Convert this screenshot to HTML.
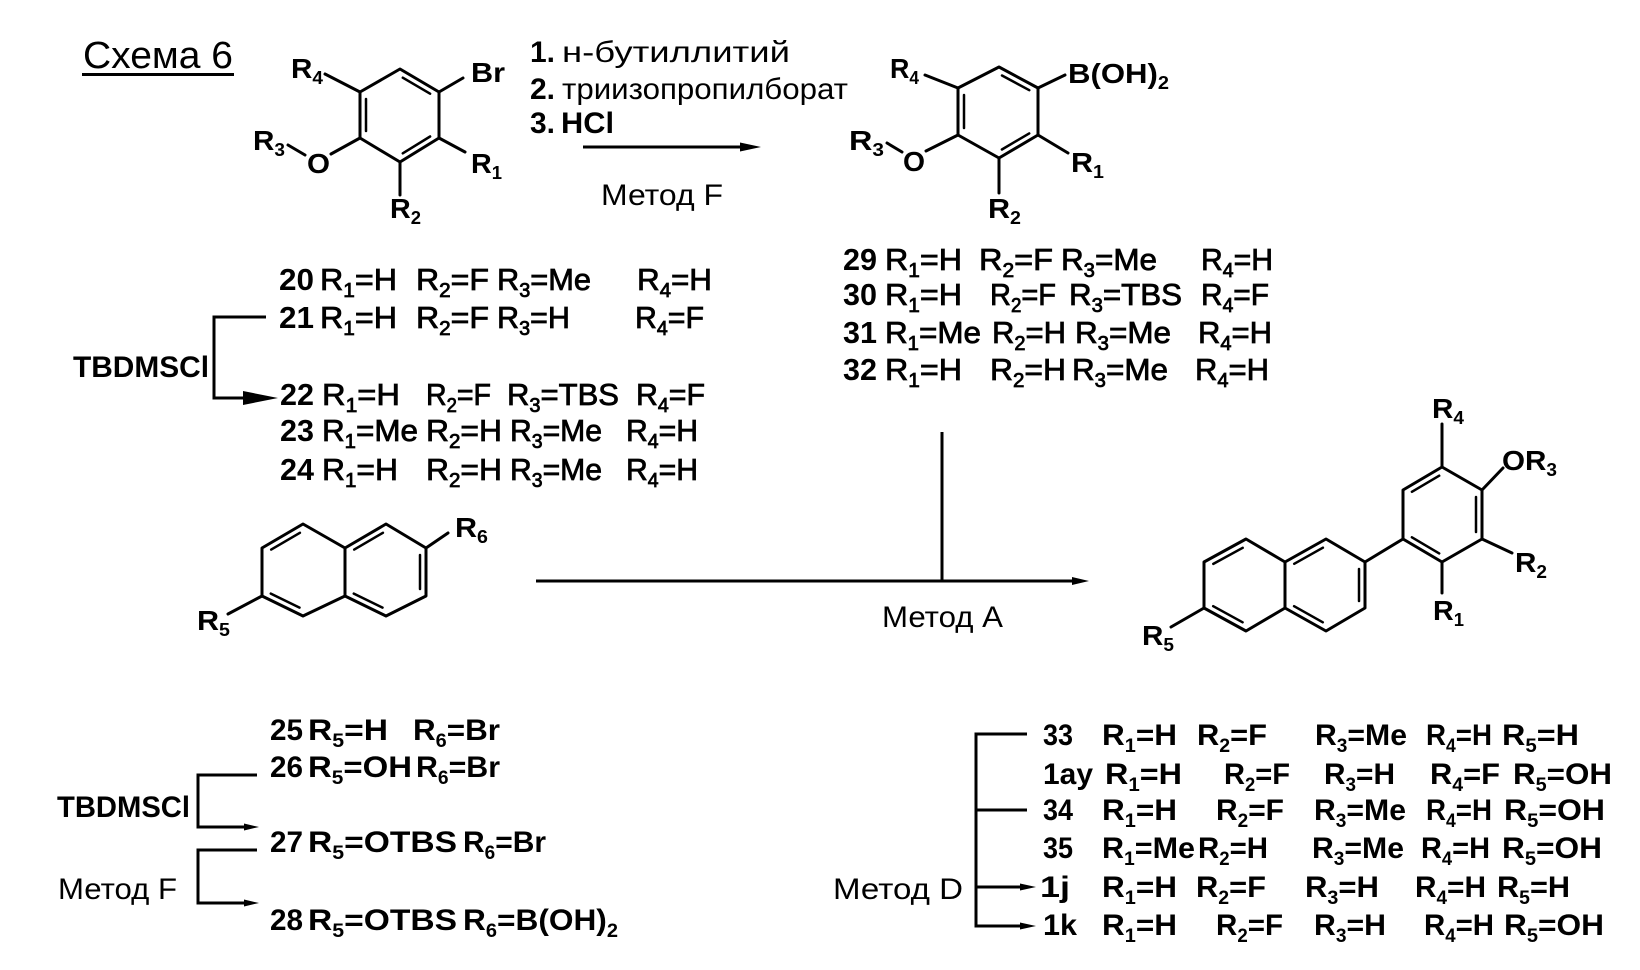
<!DOCTYPE html>
<html><head><meta charset="utf-8">
<style>
html,body{margin:0;padding:0;background:#fff;}
svg{display:block;}
text{font-family:"Liberation Sans",Arial,sans-serif;fill:#000;}
.r{font-size:30px;font-weight:normal;}
.lb{font-size:28px;font-weight:bold;}
.n{font-size:31px;font-weight:bold;}
.t{font-size:31px;font-weight:normal;stroke:#000;stroke-width:0.8;}
.b{font-size:30px;font-weight:bold;}
</style></head>
<body>
<svg width="1640" height="970" viewBox="0 0 1640 970" xmlns="http://www.w3.org/2000/svg">
<rect width="1640" height="970" fill="#fff"/>

<!-- Title -->
<text x="83" y="68" style="font-size:38px" textLength="150" lengthAdjust="spacingAndGlyphs">Схема 6</text>
<rect x="82" y="73" width="152" height="3" fill="#000"/>

<!-- Reagents -->
<text class="r" x="530" y="62" font-weight="bold" style="font-weight:bold">1.</text>
<text class="r" x="562" y="62" textLength="228" lengthAdjust="spacingAndGlyphs">н-бутиллитий</text>
<text class="r" x="530" y="99" style="font-weight:bold">2.</text>
<text class="r" x="562" y="99" textLength="286" lengthAdjust="spacingAndGlyphs">триизопропилборат</text>
<text class="r" x="530" y="133" style="font-weight:bold">3.</text>
<text class="r" x="561" y="133" style="font-weight:bold" textLength="53" lengthAdjust="spacingAndGlyphs">HCl</text>
<line x1="583" y1="147" x2="745" y2="147" stroke="#000" stroke-width="3"/>
<polygon points="740,142.5 761,147 740,151.5" fill="#000"/>
<text class="r" x="601" y="205" textLength="122" lengthAdjust="spacingAndGlyphs">Метод F</text>

<!-- Top-left structure -->
<g stroke="#000" stroke-width="3" fill="none" stroke-linejoin="round" stroke-linecap="round">
<polygon points="400,69 439,92 439,138 400,162 360,138 360,92"/>
<line x1="402.8" y1="77.7" x2="430.1" y2="93.7" stroke-width="2.5"/>
<line x1="366" y1="99" x2="366" y2="131" stroke-width="2.5"/>
<line x1="430.1" y1="136.5" x2="402.8" y2="153.3" stroke-width="2.5"/>
<line x1="439" y1="92" x2="463" y2="78"/>
<line x1="360" y1="92" x2="325" y2="74"/>
<line x1="360" y1="138" x2="331" y2="154"/>
<line x1="288" y1="145" x2="305" y2="155"/>
<line x1="439" y1="138" x2="465" y2="152"/>
<line x1="400" y1="162" x2="400" y2="195"/>
</g>
<text class="lb" x="291" y="78" textLength="32" lengthAdjust="spacingAndGlyphs">R<tspan dy="6" font-size="18">4</tspan></text>
<text class="lb" x="471" y="82" textLength="34" lengthAdjust="spacingAndGlyphs">Br</text>
<text class="lb" x="253" y="150" textLength="32" lengthAdjust="spacingAndGlyphs">R<tspan dy="6" font-size="18">3</tspan></text>
<text class="lb" x="307" y="173" textLength="23" lengthAdjust="spacingAndGlyphs">O</text>
<text class="lb" x="471" y="173" textLength="31" lengthAdjust="spacingAndGlyphs">R<tspan dy="6" font-size="18">1</tspan></text>
<text class="lb" x="390" y="218" textLength="31" lengthAdjust="spacingAndGlyphs">R<tspan dy="6" font-size="18">2</tspan></text>

<!-- Top-right structure -->
<g stroke="#000" stroke-width="3" fill="none" stroke-linejoin="round" stroke-linecap="round">
<polygon points="999,67 1038,88 1038,135 999,158 958,135 958,88"/>
<line x1="1002" y1="75.5" x2="1029.3" y2="90.2" stroke-width="2.5"/>
<line x1="964" y1="95" x2="964" y2="128" stroke-width="2.5"/>
<line x1="1029.2" y1="133.4" x2="1001.9" y2="149.5" stroke-width="2.5"/>
<line x1="1038" y1="88" x2="1065" y2="75"/>
<line x1="958" y1="88" x2="925" y2="75"/>
<line x1="958" y1="135" x2="926" y2="151"/>
<line x1="887" y1="143" x2="902" y2="152"/>
<line x1="1038" y1="135" x2="1068" y2="153"/>
<line x1="999" y1="158" x2="999" y2="193"/>
</g>
<text class="lb" x="890" y="78" textLength="29" lengthAdjust="spacingAndGlyphs">R<tspan dy="6" font-size="18">4</tspan></text>
<text class="lb" x="1068" y="83" textLength="101" lengthAdjust="spacingAndGlyphs">B(OH)<tspan dy="6" font-size="18">2</tspan></text>
<text class="lb" x="849" y="150" textLength="35" lengthAdjust="spacingAndGlyphs">R<tspan dy="6" font-size="18">3</tspan></text>
<text class="lb" x="903" y="171" textLength="22" lengthAdjust="spacingAndGlyphs">O</text>
<text class="lb" x="1071" y="172" textLength="33" lengthAdjust="spacingAndGlyphs">R<tspan dy="6" font-size="18">1</tspan></text>
<text class="lb" x="988" y="218" textLength="33" lengthAdjust="spacingAndGlyphs">R<tspan dy="6" font-size="18">2</tspan></text>

<!-- Top-left list 20-24 -->
<text class="n" x="279" y="290" textLength="35" lengthAdjust="spacingAndGlyphs">20</text>
<text class="t" x="320" y="290" textLength="77" lengthAdjust="spacingAndGlyphs">R<tspan dy="7" font-size="20">1</tspan><tspan dy="-7">=H</tspan></text>
<text class="t" x="416" y="290" textLength="73" lengthAdjust="spacingAndGlyphs">R<tspan dy="7" font-size="20">2</tspan><tspan dy="-7">=F</tspan></text>
<text class="t" x="497" y="290" textLength="94" lengthAdjust="spacingAndGlyphs">R<tspan dy="7" font-size="20">3</tspan><tspan dy="-7">=Me</tspan></text>
<text class="t" x="637" y="290" textLength="75" lengthAdjust="spacingAndGlyphs">R<tspan dy="7" font-size="20">4</tspan><tspan dy="-7">=H</tspan></text>

<text class="n" x="279" y="328" textLength="35" lengthAdjust="spacingAndGlyphs">21</text>
<text class="t" x="320" y="328" textLength="77" lengthAdjust="spacingAndGlyphs">R<tspan dy="7" font-size="20">1</tspan><tspan dy="-7">=H</tspan></text>
<text class="t" x="416" y="328" textLength="73" lengthAdjust="spacingAndGlyphs">R<tspan dy="7" font-size="20">2</tspan><tspan dy="-7">=F</tspan></text>
<text class="t" x="497" y="328" textLength="73" lengthAdjust="spacingAndGlyphs">R<tspan dy="7" font-size="20">3</tspan><tspan dy="-7">=H</tspan></text>
<text class="t" x="635" y="328" textLength="69" lengthAdjust="spacingAndGlyphs">R<tspan dy="7" font-size="20">4</tspan><tspan dy="-7">=F</tspan></text>

<text class="n" x="280" y="405" textLength="34" lengthAdjust="spacingAndGlyphs">22</text>
<text class="t" x="322" y="405" textLength="78" lengthAdjust="spacingAndGlyphs">R<tspan dy="7" font-size="20">1</tspan><tspan dy="-7">=H</tspan></text>
<text class="t" x="426" y="405" textLength="65" lengthAdjust="spacingAndGlyphs">R<tspan dy="7" font-size="20">2</tspan><tspan dy="-7">=F</tspan></text>
<text class="t" x="507" y="405" textLength="112" lengthAdjust="spacingAndGlyphs">R<tspan dy="7" font-size="20">3</tspan><tspan dy="-7">=TBS</tspan></text>
<text class="t" x="636" y="405" textLength="69" lengthAdjust="spacingAndGlyphs">R<tspan dy="7" font-size="20">4</tspan><tspan dy="-7">=F</tspan></text>

<text class="n" x="280" y="441" textLength="34" lengthAdjust="spacingAndGlyphs">23</text>
<text class="t" x="322" y="441" textLength="96" lengthAdjust="spacingAndGlyphs">R<tspan dy="7" font-size="20">1</tspan><tspan dy="-7">=Me</tspan></text>
<text class="t" x="426" y="441" textLength="76" lengthAdjust="spacingAndGlyphs">R<tspan dy="7" font-size="20">2</tspan><tspan dy="-7">=H</tspan></text>
<text class="t" x="510" y="441" textLength="92" lengthAdjust="spacingAndGlyphs">R<tspan dy="7" font-size="20">3</tspan><tspan dy="-7">=Me</tspan></text>
<text class="t" x="626" y="441" textLength="72" lengthAdjust="spacingAndGlyphs">R<tspan dy="7" font-size="20">4</tspan><tspan dy="-7">=H</tspan></text>

<text class="n" x="280" y="480" textLength="34" lengthAdjust="spacingAndGlyphs">24</text>
<text class="t" x="322" y="480" textLength="76" lengthAdjust="spacingAndGlyphs">R<tspan dy="7" font-size="20">1</tspan><tspan dy="-7">=H</tspan></text>
<text class="t" x="426" y="480" textLength="76" lengthAdjust="spacingAndGlyphs">R<tspan dy="7" font-size="20">2</tspan><tspan dy="-7">=H</tspan></text>
<text class="t" x="510" y="480" textLength="92" lengthAdjust="spacingAndGlyphs">R<tspan dy="7" font-size="20">3</tspan><tspan dy="-7">=Me</tspan></text>
<text class="t" x="626" y="480" textLength="72" lengthAdjust="spacingAndGlyphs">R<tspan dy="7" font-size="20">4</tspan><tspan dy="-7">=H</tspan></text>

<!-- TBDMSCl bracket top -->
<text class="b" x="73" y="377" textLength="136" lengthAdjust="spacingAndGlyphs">TBDMSCl</text>
<polyline points="266,317 214,317 214,398 250,398" fill="none" stroke="#000" stroke-width="3"/>
<polygon points="243,391 278,398 243,405" fill="#000"/>

<!-- Top-right list 29-32 -->
<text class="n" x="843" y="270" textLength="34" lengthAdjust="spacingAndGlyphs">29</text>
<text class="t" x="885" y="270" textLength="77" lengthAdjust="spacingAndGlyphs">R<tspan dy="7" font-size="20">1</tspan><tspan dy="-7">=H</tspan></text>
<text class="t" x="979" y="270" textLength="74" lengthAdjust="spacingAndGlyphs">R<tspan dy="7" font-size="20">2</tspan><tspan dy="-7">=F</tspan></text>
<text class="t" x="1061" y="270" textLength="96" lengthAdjust="spacingAndGlyphs">R<tspan dy="7" font-size="20">3</tspan><tspan dy="-7">=Me</tspan></text>
<text class="t" x="1201" y="270" textLength="72" lengthAdjust="spacingAndGlyphs">R<tspan dy="7" font-size="20">4</tspan><tspan dy="-7">=H</tspan></text>

<text class="n" x="843" y="305" textLength="34" lengthAdjust="spacingAndGlyphs">30</text>
<text class="t" x="885" y="305" textLength="77" lengthAdjust="spacingAndGlyphs">R<tspan dy="7" font-size="20">1</tspan><tspan dy="-7">=H</tspan></text>
<text class="t" x="990" y="305" textLength="66" lengthAdjust="spacingAndGlyphs">R<tspan dy="7" font-size="20">2</tspan><tspan dy="-7">=F</tspan></text>
<text class="t" x="1069" y="305" textLength="113" lengthAdjust="spacingAndGlyphs">R<tspan dy="7" font-size="20">3</tspan><tspan dy="-7">=TBS</tspan></text>
<text class="t" x="1201" y="305" textLength="68" lengthAdjust="spacingAndGlyphs">R<tspan dy="7" font-size="20">4</tspan><tspan dy="-7">=F</tspan></text>

<text class="n" x="843" y="343" textLength="34" lengthAdjust="spacingAndGlyphs">31</text>
<text class="t" x="885" y="343" textLength="96" lengthAdjust="spacingAndGlyphs">R<tspan dy="7" font-size="20">1</tspan><tspan dy="-7">=Me</tspan></text>
<text class="t" x="992" y="343" textLength="74" lengthAdjust="spacingAndGlyphs">R<tspan dy="7" font-size="20">2</tspan><tspan dy="-7">=H</tspan></text>
<text class="t" x="1075" y="343" textLength="96" lengthAdjust="spacingAndGlyphs">R<tspan dy="7" font-size="20">3</tspan><tspan dy="-7">=Me</tspan></text>
<text class="t" x="1198" y="343" textLength="74" lengthAdjust="spacingAndGlyphs">R<tspan dy="7" font-size="20">4</tspan><tspan dy="-7">=H</tspan></text>

<text class="n" x="843" y="380" textLength="34" lengthAdjust="spacingAndGlyphs">32</text>
<text class="t" x="885" y="380" textLength="77" lengthAdjust="spacingAndGlyphs">R<tspan dy="7" font-size="20">1</tspan><tspan dy="-7">=H</tspan></text>
<text class="t" x="990" y="380" textLength="76" lengthAdjust="spacingAndGlyphs">R<tspan dy="7" font-size="20">2</tspan><tspan dy="-7">=H</tspan></text>
<text class="t" x="1072" y="380" textLength="96" lengthAdjust="spacingAndGlyphs">R<tspan dy="7" font-size="20">3</tspan><tspan dy="-7">=Me</tspan></text>
<text class="t" x="1195" y="380" textLength="74" lengthAdjust="spacingAndGlyphs">R<tspan dy="7" font-size="20">4</tspan><tspan dy="-7">=H</tspan></text>

<!-- Naphthalene (left) -->
<g stroke="#000" stroke-width="3" fill="none" stroke-linejoin="round" stroke-linecap="round">
<polygon points="262,548 303,524 345,548 345,596 303,616 262,596"/>
<polyline points="345,548 386,524 426,548 426,596 386,616 345,596"/>
<line x1="271.2" y1="549.6" x2="299.9" y2="532.8" stroke-width="2.5"/>
<line x1="270.8" y1="593.6" x2="299.5" y2="607.6" stroke-width="2.5"/>
<line x1="354.2" y1="549.6" x2="382.9" y2="532.8" stroke-width="2.5"/>
<line x1="420" y1="555" x2="420" y2="589" stroke-width="2.5"/>
<line x1="353.8" y1="593.6" x2="382.5" y2="607.6" stroke-width="2.5"/>
<line x1="426" y1="548" x2="448" y2="533"/>
<line x1="262" y1="596" x2="228" y2="614"/>
</g>
<text class="lb" x="455" y="537" textLength="33" lengthAdjust="spacingAndGlyphs">R<tspan dy="6" font-size="18">6</tspan></text>
<text class="lb" x="197" y="630" textLength="33" lengthAdjust="spacingAndGlyphs">R<tspan dy="6" font-size="18">5</tspan></text>

<!-- Main arrow Method A -->
<line x1="536" y1="581" x2="1078" y2="581" stroke="#000" stroke-width="3"/>
<polygon points="1072,577 1089,581 1072,585" fill="#000"/>
<line x1="942" y1="432" x2="942" y2="581" stroke="#000" stroke-width="3"/>
<text class="r" x="882" y="627" textLength="121" lengthAdjust="spacingAndGlyphs">Метод A</text>

<!-- Product -->
<g stroke="#000" stroke-width="3" fill="none" stroke-linejoin="round" stroke-linecap="round">
<polygon points="1204,562 1246,539 1285,562 1285,608 1246,631 1204,608"/>
<polyline points="1285,562 1326,539 1365,562 1365,608 1326,631 1285,608"/>
<line x1="1213.3" y1="563.9" x2="1242.7" y2="547.8" stroke-width="2.5"/>
<line x1="1213.2" y1="606.2" x2="1242.6" y2="622.3" stroke-width="2.5"/>
<line x1="1294.2" y1="563.8" x2="1322.9" y2="547.7" stroke-width="2.5"/>
<line x1="1359" y1="569" x2="1359" y2="601" stroke-width="2.5"/>
<line x1="1294.1" y1="606.2" x2="1322.8" y2="622.3" stroke-width="2.5"/>
<line x1="1365" y1="562" x2="1403" y2="539"/>
<polygon points="1403,539 1403,490 1442,467 1482,490 1482,539 1442,562"/>
<line x1="1411.9" y1="491.8" x2="1439.2" y2="475.7" stroke-width="2.5"/>
<line x1="1476" y1="497" x2="1476" y2="532" stroke-width="2.5"/>
<line x1="1411.9" y1="537.3" x2="1439.2" y2="553.4" stroke-width="2.5"/>
<line x1="1442" y1="467" x2="1442" y2="424"/>
<line x1="1482" y1="490" x2="1503" y2="468"/>
<line x1="1482" y1="539" x2="1512" y2="553"/>
<line x1="1442" y1="562" x2="1442" y2="593"/>
<line x1="1204" y1="608" x2="1171" y2="627"/>
</g>
<text class="lb" x="1432" y="418" textLength="32" lengthAdjust="spacingAndGlyphs">R<tspan dy="6" font-size="18">4</tspan></text>
<text class="lb" x="1502" y="470" textLength="55" lengthAdjust="spacingAndGlyphs">OR<tspan dy="6" font-size="18">3</tspan></text>
<text class="lb" x="1515" y="572" textLength="32" lengthAdjust="spacingAndGlyphs">R<tspan dy="6" font-size="18">2</tspan></text>
<text class="lb" x="1433" y="620" textLength="31" lengthAdjust="spacingAndGlyphs">R<tspan dy="6" font-size="18">1</tspan></text>
<text class="lb" x="1142" y="645" textLength="32" lengthAdjust="spacingAndGlyphs">R<tspan dy="6" font-size="18">5</tspan></text>

<!-- Bottom-left list 25-28 -->
<text class="b" x="270" y="740" textLength="33" lengthAdjust="spacingAndGlyphs">25</text>
<text class="b" x="308" y="740" textLength="80" lengthAdjust="spacingAndGlyphs">R<tspan dy="7" font-size="19">5</tspan><tspan dy="-7">=H</tspan></text>
<text class="b" x="413" y="740" textLength="87" lengthAdjust="spacingAndGlyphs">R<tspan dy="7" font-size="19">6</tspan><tspan dy="-7">=Br</tspan></text>

<text class="b" x="270" y="777" textLength="33" lengthAdjust="spacingAndGlyphs">26</text>
<text class="b" x="308" y="777" textLength="104" lengthAdjust="spacingAndGlyphs">R<tspan dy="7" font-size="19">5</tspan><tspan dy="-7">=OH</tspan></text>
<text class="b" x="416" y="777" textLength="84" lengthAdjust="spacingAndGlyphs">R<tspan dy="7" font-size="19">6</tspan><tspan dy="-7">=Br</tspan></text>

<text class="b" x="270" y="852" textLength="33" lengthAdjust="spacingAndGlyphs">27</text>
<text class="b" x="308" y="852" textLength="149" lengthAdjust="spacingAndGlyphs">R<tspan dy="7" font-size="19">5</tspan><tspan dy="-7">=OTBS</tspan></text>
<text class="b" x="463" y="852" textLength="83" lengthAdjust="spacingAndGlyphs">R<tspan dy="7" font-size="19">6</tspan><tspan dy="-7">=Br</tspan></text>

<text class="b" x="270" y="930" textLength="33" lengthAdjust="spacingAndGlyphs">28</text>
<text class="b" x="308" y="930" textLength="149" lengthAdjust="spacingAndGlyphs">R<tspan dy="7" font-size="19">5</tspan><tspan dy="-7">=OTBS</tspan></text>
<text class="b" x="463" y="930" textLength="155" lengthAdjust="spacingAndGlyphs">R<tspan dy="7" font-size="19">6</tspan><tspan dy="-7">=B(OH)</tspan><tspan dy="7" font-size="19">2</tspan></text>

<!-- Bottom-left brackets -->
<text class="b" x="57" y="817" textLength="133" lengthAdjust="spacingAndGlyphs">TBDMSCl</text>
<polyline points="257,775 198,775 198,827 248,827" fill="none" stroke="#000" stroke-width="3"/>
<polygon points="244,823.5 259,827 244,830.5" fill="#000"/>
<text class="r" x="58" y="899" textLength="119" lengthAdjust="spacingAndGlyphs">Метод F</text>
<polyline points="257,850 198,850 198,903 248,903" fill="none" stroke="#000" stroke-width="3"/>
<polygon points="244,899.5 259,903 244,906.5" fill="#000"/>

<!-- Bottom-right bracket -->
<text class="r" x="833" y="899" textLength="130" lengthAdjust="spacingAndGlyphs">Метод D</text>
<polyline points="1027,734 976,734 976,926 1024,926" fill="none" stroke="#000" stroke-width="3"/>
<line x1="976" y1="810" x2="1027" y2="810" stroke="#000" stroke-width="3"/>
<line x1="976" y1="887" x2="1024" y2="887" stroke="#000" stroke-width="3"/>
<polygon points="1020,883.5 1036,887 1020,890.5" fill="#000"/>
<polygon points="1020,922.5 1036,926 1020,929.5" fill="#000"/>

<!-- Bottom-right list -->
<text class="b" x="1043" y="745" textLength="30" lengthAdjust="spacingAndGlyphs">33</text>
<text class="b" x="1102" y="745" textLength="75" lengthAdjust="spacingAndGlyphs">R<tspan dy="7" font-size="19">1</tspan><tspan dy="-7">=H</tspan></text>
<text class="b" x="1197" y="745" textLength="70" lengthAdjust="spacingAndGlyphs">R<tspan dy="7" font-size="19">2</tspan><tspan dy="-7">=F</tspan></text>
<text class="b" x="1315" y="745" textLength="92" lengthAdjust="spacingAndGlyphs">R<tspan dy="7" font-size="19">3</tspan><tspan dy="-7">=Me</tspan></text>
<text class="b" x="1426" y="745" textLength="66" lengthAdjust="spacingAndGlyphs">R<tspan dy="7" font-size="19">4</tspan><tspan dy="-7">=H</tspan></text>
<text class="b" x="1502" y="745" textLength="77" lengthAdjust="spacingAndGlyphs">R<tspan dy="7" font-size="19">5</tspan><tspan dy="-7">=H</tspan></text>

<text class="b" x="1043" y="784" textLength="50" lengthAdjust="spacingAndGlyphs">1ay</text>
<text class="b" x="1105" y="784" textLength="77" lengthAdjust="spacingAndGlyphs">R<tspan dy="7" font-size="19">1</tspan><tspan dy="-7">=H</tspan></text>
<text class="b" x="1224" y="784" textLength="66" lengthAdjust="spacingAndGlyphs">R<tspan dy="7" font-size="19">2</tspan><tspan dy="-7">=F</tspan></text>
<text class="b" x="1324" y="784" textLength="71" lengthAdjust="spacingAndGlyphs">R<tspan dy="7" font-size="19">3</tspan><tspan dy="-7">=H</tspan></text>
<text class="b" x="1430" y="784" textLength="70" lengthAdjust="spacingAndGlyphs">R<tspan dy="7" font-size="19">4</tspan><tspan dy="-7">=F</tspan></text>
<text class="b" x="1513" y="784" textLength="99" lengthAdjust="spacingAndGlyphs">R<tspan dy="7" font-size="19">5</tspan><tspan dy="-7">=OH</tspan></text>

<text class="b" x="1043" y="820" textLength="30" lengthAdjust="spacingAndGlyphs">34</text>
<text class="b" x="1102" y="820" textLength="75" lengthAdjust="spacingAndGlyphs">R<tspan dy="7" font-size="19">1</tspan><tspan dy="-7">=H</tspan></text>
<text class="b" x="1216" y="820" textLength="68" lengthAdjust="spacingAndGlyphs">R<tspan dy="7" font-size="19">2</tspan><tspan dy="-7">=F</tspan></text>
<text class="b" x="1314" y="820" textLength="92" lengthAdjust="spacingAndGlyphs">R<tspan dy="7" font-size="19">3</tspan><tspan dy="-7">=Me</tspan></text>
<text class="b" x="1426" y="820" textLength="66" lengthAdjust="spacingAndGlyphs">R<tspan dy="7" font-size="19">4</tspan><tspan dy="-7">=H</tspan></text>
<text class="b" x="1504" y="820" textLength="101" lengthAdjust="spacingAndGlyphs">R<tspan dy="7" font-size="19">5</tspan><tspan dy="-7">=OH</tspan></text>

<text class="b" x="1043" y="858" textLength="30" lengthAdjust="spacingAndGlyphs">35</text>
<text class="b" x="1102" y="858" textLength="93" lengthAdjust="spacingAndGlyphs">R<tspan dy="7" font-size="19">1</tspan><tspan dy="-7">=Me</tspan></text>
<text class="b" x="1198" y="858" textLength="70" lengthAdjust="spacingAndGlyphs">R<tspan dy="7" font-size="19">2</tspan><tspan dy="-7">=H</tspan></text>
<text class="b" x="1312" y="858" textLength="92" lengthAdjust="spacingAndGlyphs">R<tspan dy="7" font-size="19">3</tspan><tspan dy="-7">=Me</tspan></text>
<text class="b" x="1421" y="858" textLength="69" lengthAdjust="spacingAndGlyphs">R<tspan dy="7" font-size="19">4</tspan><tspan dy="-7">=H</tspan></text>
<text class="b" x="1502" y="858" textLength="100" lengthAdjust="spacingAndGlyphs">R<tspan dy="7" font-size="19">5</tspan><tspan dy="-7">=OH</tspan></text>

<text class="b" x="1040" y="897" textLength="30" lengthAdjust="spacingAndGlyphs">1j</text>
<text class="b" x="1102" y="897" textLength="75" lengthAdjust="spacingAndGlyphs">R<tspan dy="7" font-size="19">1</tspan><tspan dy="-7">=H</tspan></text>
<text class="b" x="1196" y="897" textLength="70" lengthAdjust="spacingAndGlyphs">R<tspan dy="7" font-size="19">2</tspan><tspan dy="-7">=F</tspan></text>
<text class="b" x="1305" y="897" textLength="74" lengthAdjust="spacingAndGlyphs">R<tspan dy="7" font-size="19">3</tspan><tspan dy="-7">=H</tspan></text>
<text class="b" x="1415" y="897" textLength="71" lengthAdjust="spacingAndGlyphs">R<tspan dy="7" font-size="19">4</tspan><tspan dy="-7">=H</tspan></text>
<text class="b" x="1497" y="897" textLength="73" lengthAdjust="spacingAndGlyphs">R<tspan dy="7" font-size="19">5</tspan><tspan dy="-7">=H</tspan></text>

<text class="b" x="1043" y="935" textLength="34" lengthAdjust="spacingAndGlyphs">1k</text>
<text class="b" x="1102" y="935" textLength="75" lengthAdjust="spacingAndGlyphs">R<tspan dy="7" font-size="19">1</tspan><tspan dy="-7">=H</tspan></text>
<text class="b" x="1216" y="935" textLength="67" lengthAdjust="spacingAndGlyphs">R<tspan dy="7" font-size="19">2</tspan><tspan dy="-7">=F</tspan></text>
<text class="b" x="1314" y="935" textLength="72" lengthAdjust="spacingAndGlyphs">R<tspan dy="7" font-size="19">3</tspan><tspan dy="-7">=H</tspan></text>
<text class="b" x="1424" y="935" textLength="70" lengthAdjust="spacingAndGlyphs">R<tspan dy="7" font-size="19">4</tspan><tspan dy="-7">=H</tspan></text>
<text class="b" x="1504" y="935" textLength="100" lengthAdjust="spacingAndGlyphs">R<tspan dy="7" font-size="19">5</tspan><tspan dy="-7">=OH</tspan></text>

</svg>
</body></html>
